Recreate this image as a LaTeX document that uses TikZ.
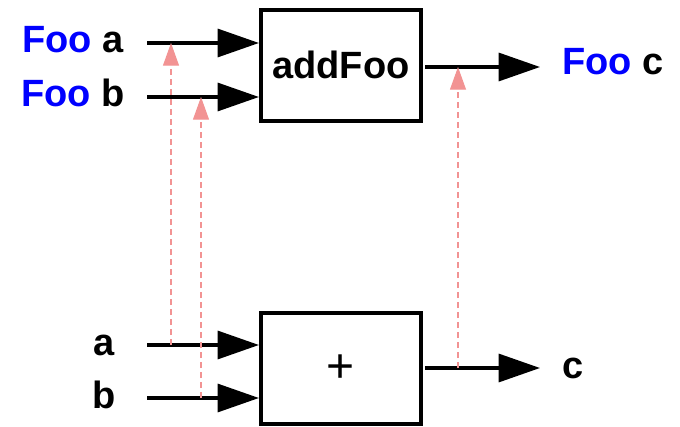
\documentclass[tikz,border=0pt]{standalone}
\usepackage{fontspec}
\setmainfont{Liberation Sans}
\usetikzlibrary{arrows.meta}
\definecolor{fooblue}{RGB}{0,0,255}
\definecolor{hint}{RGB}{240,128,128}
\begin{document}
\begin{tikzpicture}[x=0.75pt,y=-0.75pt,
  box/.style={draw, line width=2.9pt, minimum width=120.2pt, minimum height=83.4pt, inner sep=0pt,
    font=\fontsize{28}{32}\selectfont\bfseries},
  lbl/.style={anchor=base, inner sep=0pt, font=\fontsize{28.5}{32}\selectfont\bfseries},
  sig/.style={line width=2.4pt, -{Triangle[length=31pt,width=21pt]}},
  map/.style={hint!85, line width=0.8pt, dash pattern=on 4.5pt off 3pt,
    -{Triangle[length=17pt,width=12pt]}}]
\useasboundingbox (0,0) rectangle (680,427);
% boxes
\node[box] (top) at (341,65.5) {};
\node[lbl] (topt) at (341,79) {addFoo};
\node[box] (bot) at (341,368.5) {};
\node[font=\fontsize{36}{40}\selectfont] (plus) at (341,369) {+};
% labels
\node[lbl] (lfa) at (73,53) {\textcolor{fooblue}{Foo} a};
\node[lbl] (lfb) at (73,107) {\textcolor{fooblue}{Foo} b};
\node[lbl] (lfc) at (613,75) {\textcolor{fooblue}{Foo} c};
\node[lbl] (la) at (104,355) {a};
\node[lbl] (lb) at (104,408) {b};
\node[lbl] (lc) at (573,378) {c};
% signal coordinates
\coordinate (ifa) at (147,43);
\coordinate (ifb) at (147,97);
\coordinate (ofc) at (540,67);
\coordinate (ia) at (147,345);
\coordinate (ib) at (147,398);
\coordinate (oc) at (540,368);
\draw[sig] (ifa) -- (ifa -| top.west);
\draw[sig] (ifb) -- (ifb -| top.west);
\draw[sig] (ofc -| top.east) ++(2,0) coordinate (tce) -- (ofc);
\draw[sig] (ia) -- (ia -| bot.west);
\draw[sig] (ib) -- (ib -| bot.west);
\draw[sig] (oc -| bot.east) ++(2,0) coordinate (bce) -- (oc);
% mapping arrows
\coordinate (ma0) at (171,345);
\coordinate (ma1) at (171,43);
\coordinate (mb0) at (201,398);
\coordinate (mb1) at (201,97);
\coordinate (mc0) at (458,368);
\coordinate (mc1) at (458,67);
\draw[map] (ma0) -- (ma1);
\draw[map] (mb0) -- (mb1);
\draw[map] (mc0) -- (mc1);
\end{tikzpicture}
\end{document}
